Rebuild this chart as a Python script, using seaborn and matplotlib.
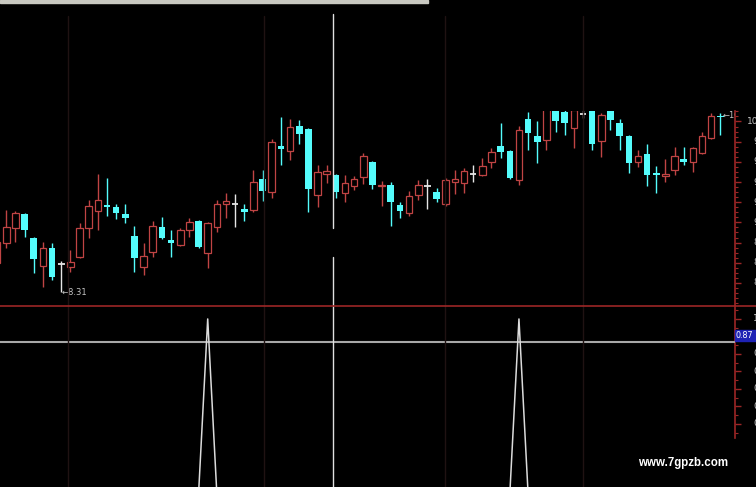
import numpy as np
import pandas as pd
import matplotlib
matplotlib.use("Agg")
import matplotlib.pyplot as plt
import seaborn as sns
from matplotlib.patches import Rectangle
from matplotlib.lines import Line2D
from matplotlib.ticker import MultipleLocator, FixedLocator
from matplotlib.transforms import blended_transform_factory

# ---------------- data ----------------
open_ = [8.60, 8.80, 8.94, 9.08, 8.85, 8.57, 8.75, 8.59, 8.56, 8.66,
         8.94, 9.11, 9.17, 9.15, 9.08, 8.87, 8.56, 8.71, 8.95, 8.83,
         8.78, 8.92, 9.01, 8.70, 8.95, 9.18, 9.18, 9.13, 9.12, 9.43,
         9.30, 9.76, 9.71, 9.96, 9.93, 9.27, 9.48, 9.47, 9.29, 9.36,
         9.45, 9.60, 9.36, 9.37, 9.17, 9.09, 9.27, 9.36, 9.30, 9.18,
         9.40, 9.39, 9.48, 9.47, 9.60, 9.76, 9.71, 9.42, 10.02, 9.86,
         9.82, 10.11, 10.09, 9.94, 10.07, 10.13, 9.81, 10.11, 9.99, 9.86,
         9.60, 9.68, 9.49, 9.46, 9.52, 9.63, 9.60, 9.69, 9.84, 10.05]
close = [8.81, 8.95, 9.09, 8.92, 8.64, 8.75, 8.46, 8.59, 8.61, 8.94,
         9.16, 9.22, 9.15, 9.09, 9.04, 8.65, 8.67, 8.96, 8.85, 8.80,
         8.92, 9.00, 8.76, 8.99, 9.18, 9.21, 9.18, 9.10, 9.40, 9.31,
         9.80, 9.73, 9.95, 9.88, 9.33, 9.50, 9.51, 9.30, 9.39, 9.43,
         9.66, 9.37, 9.37, 9.20, 9.11, 9.26, 9.37, 9.36, 9.23, 9.42,
         9.43, 9.51, 9.48, 9.56, 9.70, 9.70, 9.44, 9.92, 9.89, 9.80,
         10.13, 10.00, 9.99, 10.11, 10.07, 9.78, 10.06, 10.01, 9.86, 9.59,
         9.66, 9.47, 9.47, 9.48, 9.66, 9.60, 9.74, 9.86, 10.05, 10.04]
high = [8.85, 9.12, 9.11, 9.09, 8.86, 8.81, 8.80, 8.62, 8.73, 8.99,
        9.22, 9.48, 9.44, 9.18, 9.18, 8.96, 8.80, 9.01, 9.05, 8.92,
        8.94, 9.04, 9.02, 9.00, 9.22, 9.29, 9.28, 9.18, 9.52, 9.52,
        9.83, 10.04, 10.02, 10.01, 9.94, 9.57, 9.57, 9.48, 9.47, 9.46,
        9.69, 9.61, 9.41, 9.40, 9.20, 9.31, 9.42, 9.43, 9.34, 9.44,
        9.52, 9.54, 9.57, 9.64, 9.74, 9.99, 9.72, 9.96, 10.09, 10.00,
        10.16, 10.13, 10.11, 10.16, 10.16, 10.16, 10.08, 10.13, 10.02, 9.87,
        9.72, 9.78, 9.56, 9.63, 9.75, 9.75, 9.75, 9.90, 10.08, 10.08]
low = [8.55, 8.75, 8.81, 8.86, 8.50, 8.36, 8.43, 8.31, 8.51, 8.65,
       8.85, 8.92, 9.06, 9.03, 8.99, 8.51, 8.48, 8.66, 8.84, 8.66,
       8.77, 8.86, 8.75, 8.55, 8.90, 9.04, 8.95, 9.01, 9.10, 9.21,
       9.24, 9.57, 9.62, 9.78, 9.10, 9.15, 9.39, 9.24, 9.20, 9.32,
       9.38, 9.33, 9.16, 8.96, 9.04, 9.06, 9.22, 9.13, 9.20, 9.16,
       9.28, 9.29, 9.40, 9.46, 9.54, 9.64, 9.43, 9.37, 9.72, 9.59,
       9.72, 9.90, 9.87, 9.74, 10.03, 9.72, 9.65, 9.92, 9.72, 9.49,
       9.55, 9.36, 9.29, 9.40, 9.47, 9.57, 9.50, 9.68, 9.83, 9.87]
signal = [0, 0, 0, 0, 0, 0, 0, 0, 0, 0,
          0, 0, 0, 0, 0, 0, 0, 0, 0, 0,
          0, 0, 0, 1.0, 0, 0, 0, 0, 0, 0,
          0, 0, 0, 0, 0, 0, 0, 0, 0, 0,
          0, 0, 0, 0, 0, 0, 0, 0, 0, 0,
          0, 0, 0, 0, 0, 0, 0, 1.0, 0, 0,
          0, 0, 0, 0, 0, 0, 0, 0, 0, 0,
          0, 0, 0, 0, 0, 0, 0, 0, 0, 0]

price_ticks = [10.0, 9.8, 9.6, 9.4, 9.2, 9.0, 8.8, 8.6, 8.4]
price_tick_labels = ["10.00", "9.80", "9.60", "9.40", "9.20", "9.00", "8.80", "8.60", "8.40"]
signal_ticks = [1.0, 0.8, 0.7, 0.6, 0.5, 0.4]
signal_tick_labels = ["1.00", "0.80", "0.70", "0.60", "0.50", "0.40"]
low_label = "\u21908.31"
high_label = "\u219010.08"
cursor_value = 0.87
cursor_label = "0.87"
watermark = "www.7gpzb.com"

# ---------------- style ----------------
sns.set_theme(style="dark", rc={"axes.facecolor": "black", "figure.facecolor": "black",
                                "axes.grid": False})
plt.rcParams["font.family"] = ["DejaVu Sans"]

RED = "#c04444"
AXRED = "#9c2626"
CYAN = "#54fcfc"
WHITE = "#e6e6e6"
LBL = "#c4c4c4"

W, H = 756, 487
fig = plt.figure(figsize=(W / 100, H / 100), dpi=100)
fig.patch.set_facecolor("black")

def fx(px):
    return px / W

def fy(py):
    return 1 - py / H

main_top, main_bot = 111, 305.5
low_top, low_bot = 306, 487
ax = fig.add_axes([0, fy(main_bot), fx(735), (main_bot - main_top) / H])
ax2 = fig.add_axes([0, 0, fx(735), (low_bot - low_top) / H])

# lower indicator
idx = np.arange(len(signal))
sns.lineplot(x=idx, y=signal, ax=ax2, color="#dcdcdc", lw=1.1, zorder=4)
ax2.set_xlabel("")
ax2.set_ylabel("")
ax2.axhline(cursor_value, color="#a8a8a8", lw=1.5, zorder=3)

for a in (ax, ax2):
    a.set_facecolor("black")
    for s in ("top", "left", "bottom"):
        a.spines[s].set_visible(False)
    a.spines["right"].set_visible(True)
    a.spines["right"].set_color(AXRED)
    a.spines["right"].set_linewidth(1.2)
    a.set_xlim(0.311, 80.60)
    a.set_xticks([])
    a.yaxis.tick_right()

ax.set_ylim(8.1765, 10.104)
ax2.set_ylim(0.04, 1.074)
ax2.spines["right"].set_bounds(0.32, 1.074)

df = pd.DataFrame(dict(open=open_, high=high, low=low, close=close))
df["i"] = np.arange(len(df))
up = df[df.close > df.open]
dn = df[df.close < df.open]
fl = df[df.close == df.open]
bw = 0.72

# wicks
ax.vlines(up.i, up.low, up.high, color=RED, lw=1.0, zorder=2)
ax.vlines(dn.i, dn.low, dn.high, color=CYAN, lw=1.0, zorder=2)
ax.vlines(fl.i, fl.low, fl.high, color=WHITE, lw=1.0, zorder=2)
# bodies
ax.bar(up.i, up.close - up.open, bottom=up.open, width=bw, facecolor="black",
       edgecolor=RED, linewidth=0.9, zorder=3)
ax.bar(dn.i, dn.open - dn.close, bottom=dn.close, width=bw, color=CYAN,
       linewidth=0, zorder=3)
ax.hlines(fl.open, fl.i - bw / 2, fl.i + bw / 2, color=WHITE, lw=1.3, zorder=3)

# low / high annotations
imin = int(np.argmin(low))
ax.text(imin, low[imin], low_label, color=LBL, fontsize=6, ha="left", va="center", zorder=5)
ilast = len(high) - 1
ax.text(ilast + 0.3, high[ilast] - 0.02, high_label, color=LBL, fontsize=6, ha="left",
        va="center", zorder=5, clip_on=True)

# right axis ticks (marks from the axis, labels right-aligned like the terminal)
ax.set_yticks(price_ticks)
ax.yaxis.set_minor_locator(MultipleLocator(0.05))
ax2.set_yticks(signal_ticks)
ax2.yaxis.set_minor_locator(FixedLocator([0.35, 0.45, 0.55, 0.65, 0.75, 0.85, 0.95, 1.05]))
for a in (ax, ax2):
    a.tick_params(axis="y", which="major", colors=AXRED, length=4, width=1,
                  right=True, left=False, labelright=False, labelleft=False,
                  direction="out")
    a.tick_params(axis="y", which="minor", colors=AXRED, length=2, width=0.8,
                  right=True, left=False)

tr1 = blended_transform_factory(fig.transFigure, ax.transData)
for v, s in zip(price_ticks, price_tick_labels):
    ax.text(fx(773), v, s, transform=tr1, ha="right", va="center", color=LBL,
            fontsize=6.5, clip_on=False)
tr2 = blended_transform_factory(fig.transFigure, ax2.transData)
for v, s in zip(signal_ticks, signal_tick_labels):
    ax2.text(fx(773), v, s, transform=tr2, ha="right", va="center", color=LBL,
             fontsize=6.5, clip_on=False)

# decorations in figure pixel space
def vline(px, y0, y1, color, lw):
    fig.add_artist(Line2D([fx(px), fx(px)], [fy(y0), fy(y1)], color=color, lw=lw,
                          transform=fig.transFigure, zorder=1))

for gx in (68, 264, 445, 583):
    vline(gx, 16, 487, "#1f1212", 1.0)

# cursor vertical line
vline(333.3, 14, 228, "#e0e0e0", 1.0)
vline(333.3, 257, 487, "#e0e0e0", 1.0)

# separator
fig.add_artist(Line2D([0, 1], [fy(305.5), fy(305.5)], color=AXRED, lw=1.2,
                      transform=fig.transFigure, zorder=6))
# top bar
fig.add_artist(Rectangle((0, fy(2.6)), fx(428), 2.6 / H, color="#c9c9c1",
                         transform=fig.transFigure, zorder=6))
# cursor value box
fig.add_artist(Rectangle((fx(735), fy(341)), fx(21), 11.5 / H, color="#1e22b4",
                         transform=fig.transFigure, zorder=7))
fig.text(fx(736), fy(335.5), cursor_label, color="white", fontsize=5.8, ha="left",
         va="center", zorder=8)

fig.text(fx(683), fy(463), watermark, color="white", fontsize=8.3, fontweight="bold",
         family=["Liberation Sans", "DejaVu Sans"], ha="center", va="center", zorder=8)

fig.savefig("out.png", dpi=100, facecolor="black")
